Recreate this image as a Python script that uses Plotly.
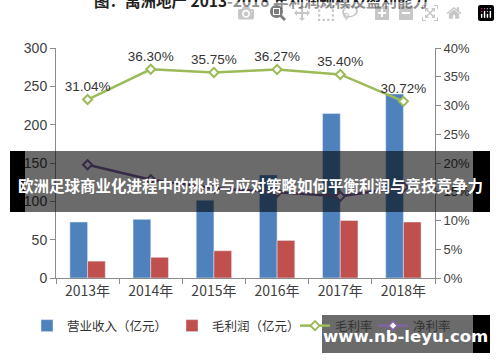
import plotly.graph_objects as go

years = ["2013年", "2014年", "2015年", "2016年", "2017年", "2018年"]
revenue = [73, 76.5, 101.5, 134.5, 214.5, 240]
gross_profit = [22, 27, 35.5, 49, 75, 73]
gross_margin = [0.3104, 0.3630, 0.3575, 0.3627, 0.3540, 0.3072]
gross_margin_labels = ["31.04%", "36.30%", "35.75%", "36.27%", "35.40%", "30.72%"]
net_margin = [0.197, 0.171, 0.156, 0.149, 0.142, 0.158]

W, H = 500, 362
L, R, T, B = 56, 65, 48, 84
PW, PH = W - L - R, H - T - B

def px(x):
    return (x - L) / PW

def py(y):
    return (H - B - y) / PH

FONT = "Liberation Sans, Noto Sans CJK SC, sans-serif"
CJK = "Noto Sans CJK SC, Liberation Sans, sans-serif"

fig = go.Figure()
fig.add_trace(go.Bar(x=years, y=revenue, name="营业收入（亿元）", marker_color="#4F81BD",
                     legend="legend"))
fig.add_trace(go.Bar(x=years, y=gross_profit, name="毛利润（亿元）", marker_color="#C0504D",
                     legend="legend2"))
fig.add_trace(go.Scatter(x=years, y=gross_margin, name="毛利率", yaxis="y2",
                         mode="lines+markers+text", text=gross_margin_labels,
                         textposition="top center", textfont=dict(size=13.5, color="#333333", family=FONT),
                         line=dict(color="#9BBB59", width=2.5),
                         marker=dict(symbol="diamond", size=7, color="white",
                                     line=dict(color="#9BBB59", width=2)),
                         legend="legend3"))
fig.add_trace(go.Scatter(x=years, y=net_margin, name="净利率", yaxis="y2",
                         mode="lines+markers",
                         line=dict(color="#8064A2", width=2.5),
                         marker=dict(symbol="diamond", size=7, color="white",
                                     line=dict(color="#8064A2", width=2)),
                         legend="legend4"))

shapes = [
    dict(type="rect", xref="paper", yref="paper", x0=px(10), x1=px(25), y0=py(212), y1=py(151),
         fillcolor="black", line_width=0, layer="above"),
    dict(type="rect", xref="paper", yref="paper", x0=px(473), x1=px(490), y0=py(212), y1=py(151),
         fillcolor="black", line_width=0, layer="above"),
    dict(type="rect", xref="paper", yref="paper", x0=px(25), x1=px(473), y0=py(212), y1=py(151),
         fillcolor="rgba(0,0,0,0.58)", line_width=0, layer="above"),
    dict(type="rect", xref="paper", yref="paper", x0=px(473), x1=px(490), y0=py(353), y1=py(315),
         fillcolor="black", line_width=0, layer="above"),
    dict(type="rect", xref="paper", yref="paper", x0=px(322), x1=px(473), y0=py(353), y1=py(315),
         fillcolor="rgba(0,0,0,0.58)", line_width=0, layer="above"),
]

annotations = [
    dict(text="<b>图：禹洲地产 2013-2018 年利润规模及盈利能力</b>", xref="paper", yref="paper",
         x=px(261), y=py(0), xanchor="center", yanchor="middle", showarrow=False,
         font=dict(size=15.5, color="#222222", family=CJK)),
    dict(text="<b>欧洲足球商业化进程中的挑战与应对策略如何平衡利润与竞技竞争力</b>", xref="paper", yref="paper",
         x=px(250), y=py(185), xanchor="center", yanchor="middle", showarrow=False,
         font=dict(size=15.5, color="white", family=CJK)),
    dict(text="<b>www.nb-leyu.com</b>", xref="paper", yref="paper",
         x=px(405), y=py(336), xanchor="center", yanchor="middle", showarrow=False,
         font=dict(size=16.5, color="white", family="DejaVu Sans, Liberation Sans, sans-serif")),
]

axis_common = dict(showgrid=False, zeroline=False, showline=True, linecolor="#8c8c8c", linewidth=1,
                   ticks="outside", ticklen=5, tickcolor="#8c8c8c",
                   tickfont=dict(size=13, color="#404040", family=FONT))

def leg(text_start):
    return dict(orientation="h", xref="paper", yref="paper", x=px(text_start - 40), xanchor="left",
                y=py(326), yanchor="middle", font=dict(size=12.5, color="#333333", family=CJK),
                bgcolor="rgba(0,0,0,0)", itemwidth=30)

fig.update_layout(
    width=W, height=H,
    margin=dict(l=L, r=R, t=T, b=B, autoexpand=False),
    paper_bgcolor="white", plot_bgcolor="white",
    barmode="group", bargap=0.44, bargroupgap=0,
    xaxis=dict(**axis_common, tickson="boundaries"),
    yaxis=dict(**axis_common, range=[0, 300], dtick=50),
    yaxis2=dict(**axis_common, range=[0, 0.40], dtick=0.05, tickformat=".0%",
                overlaying="y", side="right"),
    legend=leg(67), legend2=leg(212), legend3=leg(335), legend4=leg(413),
    shapes=shapes, annotations=annotations, showlegend=True,
)
fig.update_xaxes(tickfont=dict(size=14, family=CJK))
fig.update_yaxes(tickfont=dict(size=14), selector=dict(side="left"))
fig.layout.yaxis.tickfont.size = 14

fig.write_html("out.html", post_script="document.body.style.margin='0';")
